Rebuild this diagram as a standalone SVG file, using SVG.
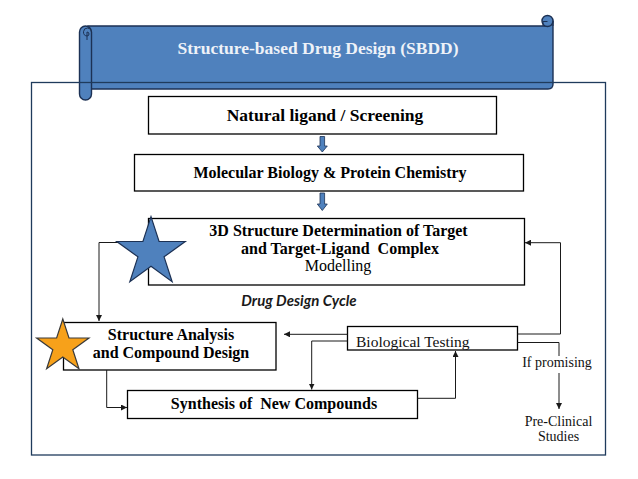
<svg xmlns="http://www.w3.org/2000/svg" width="638" height="479" viewBox="0 0 638 479">
<defs>
<style>
.box{fill:#fff;stroke:#000;stroke-width:1.3}
.b{font-family:"Liberation Serif","Times New Roman",serif;font-weight:bold;font-size:16px;fill:#000;text-anchor:middle;white-space:pre}
.r{font-family:"Liberation Serif","Times New Roman",serif;font-size:14px;fill:#111;text-anchor:middle}
.con{fill:none;stroke:#1a1a1a;stroke-width:1}
.scroll{fill:#4f81bd;stroke:#1c3154;stroke-width:1.4}
.blk{fill:#4f81bd;stroke:#1c3154;stroke-width:0.8}
</style>
<marker id="ah" viewBox="0 0 6 6" refX="6" refY="3" markerWidth="6" markerHeight="6" markerUnits="userSpaceOnUse" orient="auto">
<path d="M0,0 L6,3 L0,6 z" fill="#1a1a1a"/>
</marker>
</defs>
<rect width="638" height="479" fill="#fff"/>

<g id="title-scroll">
<path class="scroll" d="M88 26 H547.5 V21 A5.5 5.5 0 0 1 553 21 V84 Q553 89 548 89 H88 Z"/>
<circle class="scroll" cx="547.5" cy="21" r="5.5"/>
<path fill="none" stroke="#1c3154" stroke-width="1" d="M543 26 V21.5 H547.5 M553 21 V26"/>
<rect class="scroll" x="79.5" y="26" width="12" height="74" rx="6"/>
<path fill="none" stroke="#1c3154" stroke-width="1" d="M91.5 32 A4 4 0 1 0 87 36 A2 2 0 0 0 87 32 V40"/>
<text x="318" y="54" style="font-family:'Liberation Serif','Times New Roman',serif;font-weight:bold;font-size:17.5px;fill:#eef2f8;text-anchor:middle">Structure-based Drug Design (SBDD)</text>
</g>

<rect id="frame" x="31.5" y="82.5" width="574" height="372.5" fill="none" stroke="#1f3b5c" stroke-width="1.3"/>

<g id="natural-ligand">
<rect class="box" x="148.5" y="96.5" width="348" height="37.5"/>
<text class="b" x="325" y="121" style="font-size:17.5px">Natural ligand / Screening</text>
</g>
<g id="molecular-biology">
<rect class="box" x="134.5" y="154.5" width="389" height="36.5"/>
<text class="b" x="330" y="178">Molecular Biology &amp; Protein Chemistry</text>
</g>
<g id="structure-determination">
<rect class="box" x="148.5" y="218.5" width="376" height="66.5"/>
<text class="b" x="338.5" y="235.5">3D Structure Determination of Target</text>
<text class="b" x="340" y="253.5">and Target-Ligand  Complex</text>
<text class="b" x="338" y="271" style="font-weight:normal">Modelling</text>
</g>
<g id="structure-analysis">
<rect class="box" x="63.5" y="322.5" width="212.5" height="47.5"/>
<text class="b" x="171" y="339.5">Structure Analysis</text>
<text class="b" x="171" y="357.5">and Compound Design</text>
</g>
<g id="biological-testing">
<rect class="box" x="347.5" y="326.5" width="170" height="23.5"/>
<text class="r" x="356" y="346.5" style="text-anchor:start;font-size:15.5px">Biological Testing</text>
</g>
<g id="synthesis">
<rect class="box" x="127.5" y="390.5" width="290" height="28"/>
<text class="b" x="274" y="409">Synthesis of  New Compounds</text>
</g>
<g id="pre-clinical">
<text class="r" x="558.5" y="426">Pre-Clinical</text>
<text class="r" x="558.5" y="441">Studies</text>
</g>
<text id="cycle-label" x="299" y="305.5" style="font-family:Lato,'Open Sans',sans-serif;font-weight:bold;font-style:italic;font-size:15px;fill:#1a1a1a;text-anchor:middle">Drug Design Cycle</text>

<g id="connectors">
<path class="blk" d="M320 136.5 H324.6 V146 H327.3 L322.3 152 L317.3 146 H320 Z"/>
<path class="blk" d="M320 193 H324.6 V204 H327.3 L322.3 210.5 L317.3 204 H320 Z"/>
<path class="con" marker-end="url(#ah)" d="M148.5 242.5 H99 V321"/>
<path class="con" marker-end="url(#ah)" d="M347.5 334.3 H284"/>
<path class="con" marker-end="url(#ah)" d="M347.5 341 H311.7 V389.5"/>
<path class="con" marker-end="url(#ah)" d="M417.5 398.3 H455.5 V351"/>
<path class="con" marker-end="url(#ah)" d="M106.7 370 V407.5 H127"/>
<path class="con" marker-end="url(#ah)" d="M517.5 334 H560.5 V242.7 H525"/>
<path class="con" d="M517.5 342.5 H559 V356"/>
<path class="con" marker-end="url(#ah)" d="M559 373 V409"/>
<text class="r" x="557" y="367">If promising</text>
</g>

<g id="stars">
<polygon points="151,216.6 159.08,241.48 185.24,241.48 164.08,256.85 172.16,281.72 151,266.35 129.84,281.72 137.92,256.85 116.76,241.48 142.92,241.48" fill="#4f81bd" stroke="#1c3154" stroke-width="1.2"/>
<polygon points="62.8,319 68.97,338 88.96,338 72.79,349.74 78.96,368.75 62.8,357 46.64,368.75 52.81,349.74 36.64,338 56.63,338" fill="#f7a11a" stroke="#3a3a3a" stroke-width="1.2"/>
</g>
</svg>
